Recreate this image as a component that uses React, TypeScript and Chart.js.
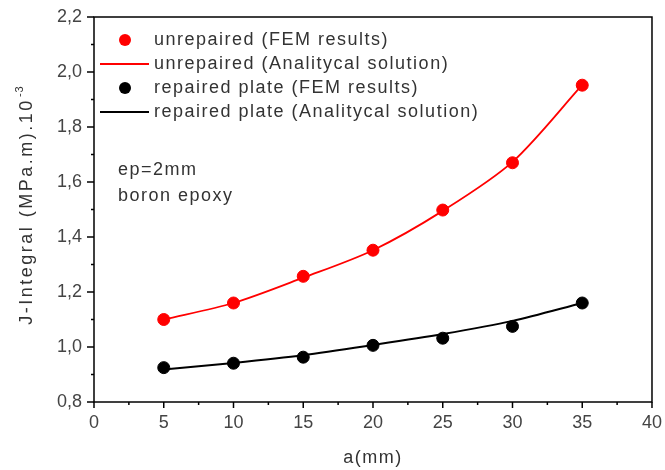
import React, { useEffect, useRef } from "react";
import { Chart, registerables } from "chart.js";

Chart.register(...registerables);

const aValues = [5, 10, 15, 20, 25, 30, 35];
const unrepairedFEM = [1.10, 1.16, 1.257, 1.352, 1.498, 1.67, 1.952];
const unrepairedAnalytical = [1.10, 1.16, 1.252, 1.352, 1.495, 1.673, 1.953];
const repairedFEM = [0.925, 0.941, 0.963, 1.006, 1.032, 1.075, 1.16];
const repairedAnalytical = [0.918, 0.942, 0.97, 1.007, 1.047, 1.095, 1.16];

const legendLabels = [
  "unrepaired (FEM results)",
  "unrepaired (Analitycal solution)",
  "repaired plate (FEM results)",
  "repaired plate (Analitycal solution)",
];
const noteLines = ["ep=2mm", "boron epoxy"];
const xTitle = "a(mm)";
const yTitleMain = "J-Integral (MPa.m).10";
const yTitleSup = "-3";

const FONT = "'Liberation Sans', Arial, sans-serif";
const TEXT = "#333";

const decorPlugin = {
  id: "decor",
  afterDraw(chart: any) {
    const ctx = chart.ctx as CanvasRenderingContext2D;
    const { left, right, top, bottom } = chart.chartArea;
    const xs = chart.scales.x;
    const ys = chart.scales.y;
    ctx.save();
    ctx.strokeStyle = "#000";
    ctx.lineWidth = 1.5;
    ctx.strokeRect(left, top, right - left, bottom - top);
    for (let v = 0; v <= 40.001; v += 2.5) {
      const px = xs.getPixelForValue(v);
      const major = Math.abs(v / 5 - Math.round(v / 5)) < 1e-6;
      ctx.beginPath();
      ctx.moveTo(px, bottom);
      ctx.lineTo(px, bottom + (major ? 6 : 3));
      ctx.stroke();
    }
    for (let i = 0; i <= 14; i++) {
      const v = 0.8 + i * 0.1;
      const py = ys.getPixelForValue(v);
      const major = i % 2 === 0;
      ctx.beginPath();
      ctx.moveTo(left, py);
      ctx.lineTo(left - (major ? 7 : 3), py);
      ctx.stroke();
    }
    (ctx as any).letterSpacing = "1.5px";
    ctx.font = `18px ${FONT}`;
    ctx.fillStyle = TEXT;
    ctx.textBaseline = "middle";
    ctx.textAlign = "left";
    const rows = [40, 64, 88, 112];
    const colors = ["#ff0000", "#ff0000", "#000000", "#000000"];
    rows.forEach((y, i) => {
      if (i % 2 === 0) {
        ctx.beginPath();
        ctx.fillStyle = colors[i];
        ctx.arc(125, y, 6, 0, Math.PI * 2);
        ctx.fill();
      } else {
        ctx.beginPath();
        ctx.strokeStyle = colors[i];
        ctx.lineWidth = 2;
        ctx.moveTo(100, y);
        ctx.lineTo(149, y);
        ctx.stroke();
      }
      ctx.fillStyle = TEXT;
      ctx.fillText(legendLabels[i], 154, y);
    });
    ctx.fillText(noteLines[0], 118, 170);
    ctx.fillText(noteLines[1], 118, 196);
    ctx.textAlign = "center";
    ctx.fillText(xTitle, (left + right) / 2, 458);
    ctx.save();
    ctx.translate(27, 204);
    ctx.rotate(-Math.PI / 2);
    (ctx as any).letterSpacing = "2.5px";
    ctx.font = `18px ${FONT}`;
    const wMain = ctx.measureText(yTitleMain).width;
    ctx.font = `11px ${FONT}`;
    const wSup = ctx.measureText(yTitleSup).width;
    const start = -(wMain + wSup) / 2;
    ctx.textAlign = "left";
    ctx.font = `18px ${FONT}`;
    ctx.fillText(yTitleMain, start, 0);
    (ctx as any).letterSpacing = "1px";
    ctx.font = `11px ${FONT}`;
    ctx.fillText(yTitleSup, start + wMain + 1, -7);
    ctx.restore();
    ctx.restore();
  },
};

export default function App() {
  const ref = useRef<HTMLCanvasElement>(null);
  useEffect(() => {
    if (!ref.current) return;
    const mk = (ys: number[]) => aValues.map((x, i) => ({ x, y: ys[i] }));
    const chart = new Chart(ref.current, {
      type: "scatter",
      data: {
        datasets: [
          {
            label: legendLabels[1],
            data: mk(unrepairedAnalytical),
            showLine: true,
            borderColor: "#ff0000",
            borderWidth: 1.8,
            pointRadius: 0,
            tension: 0.3,
            order: 2,
          },
          {
            label: legendLabels[3],
            data: mk(repairedAnalytical),
            showLine: true,
            borderColor: "#000000",
            borderWidth: 2,
            pointRadius: 0,
            tension: 0.3,
            order: 2,
          },
          {
            label: legendLabels[0],
            data: mk(unrepairedFEM),
            showLine: false,
            backgroundColor: "#ff0000",
            borderColor: "#ff0000",
            pointRadius: 6,
            order: 1,
          },
          {
            label: legendLabels[2],
            data: mk(repairedFEM),
            showLine: false,
            backgroundColor: "#000000",
            borderColor: "#000000",
            pointRadius: 6,
            order: 1,
          },
        ] as any,
      },
      options: {
        animation: false,
        responsive: false,
        maintainAspectRatio: false,
        layout: { padding: { left: 0, top: 17, right: 12, bottom: 0 } },
        plugins: {
          legend: { display: false },
          tooltip: { enabled: false },
          title: { display: false },
        },
        scales: {
          x: {
            type: "linear",
            min: 0,
            max: 40,
            ticks: {
              stepSize: 5,
              color: "#444",
              font: { family: FONT, size: 18 },
              padding: 3,
              maxRotation: 0,
            },
            grid: { display: true, drawOnChartArea: false, drawTicks: true, tickLength: 7, tickColor: "rgba(0,0,0,0)" },
            border: { display: false },
            afterFit: (s: any) => {
              s.height = 68;
            },
          },
          y: {
            type: "linear",
            min: 0.8,
            max: 2.2,
            ticks: {
              stepSize: 0.2,
              color: "#444",
              font: { family: FONT, size: 18 },
              padding: 5,
              callback: (v: any) => Number(v).toFixed(1).replace(".", ","),
            },
            grid: { display: true, drawOnChartArea: false, drawTicks: true, tickLength: 7, tickColor: "rgba(0,0,0,0)" },
            border: { display: false },
            afterFit: (s: any) => {
              s.width = 94;
            },
          },
        },
      } as any,
      plugins: [decorPlugin],
    });
    return () => chart.destroy();
  }, []);
  return (
    <div style={{ position: "fixed", left: 0, top: 0, width: 665, height: 470, background: "#fff" }}>
      <canvas ref={ref} width={665} height={470} style={{ display: "block" }} />
    </div>
  );
}
